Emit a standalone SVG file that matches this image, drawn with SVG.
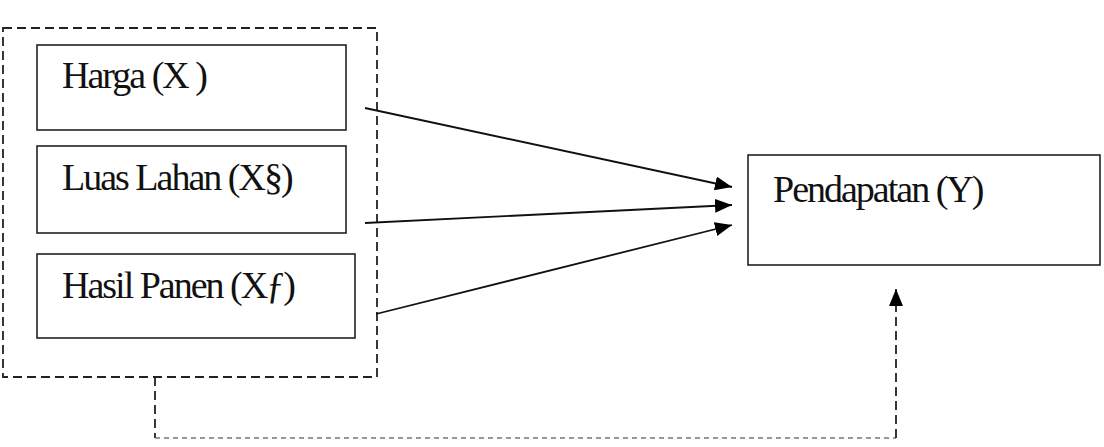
<svg xmlns="http://www.w3.org/2000/svg" width="1104" height="447" viewBox="0 0 1104 447">
<style>
.box{fill:none;stroke:#222;stroke-width:1.6}
.dash{fill:none;stroke:#222;stroke-width:1.8;stroke-dasharray:9 5}
.lbl{font-family:"Liberation Serif",serif;font-size:38px;letter-spacing:-2px;fill:#111}
.conn{stroke:#111;stroke-width:1.8;fill:none}
</style>
<defs>
<marker id="ah" viewBox="0 0 17 14" refX="17" refY="7" markerWidth="17" markerHeight="14" markerUnits="userSpaceOnUse" orient="auto">
<path d="M0,0 L17,7 L0,14 Z" fill="#000"/>
</marker>
</defs>
<rect width="1104" height="447" fill="#fff"/>
<g id="group-x">
<rect class="dash" x="3" y="28" width="374" height="349"/>
</g>
<g id="node-harga">
<rect class="box" x="37" y="45" width="309" height="85"/>
<text class="lbl" x="62" y="88">Harga (X )</text>
</g>
<g id="node-luas">
<rect class="box" x="37" y="146" width="309" height="87"/>
<text class="lbl" x="62" y="190">Luas Lahan (X§)</text>
</g>
<g id="node-hasil">
<rect class="box" x="37" y="254" width="318" height="84"/>
<text class="lbl" x="62" y="298">Hasil Panen (Xƒ)</text>
</g>
<g id="node-pendapatan">
<rect class="box" x="748" y="155" width="352" height="110"/>
<text class="lbl" x="773" y="202">Pendapatan (Y)</text>
</g>
<g id="connectors">
<line class="conn" x1="365" y1="108" x2="732" y2="187" marker-end="url(#ah)"/>
<line class="conn" x1="365" y1="223" x2="732" y2="205" marker-end="url(#ah)"/>
<line class="conn" x1="376" y1="314" x2="732" y2="225" marker-end="url(#ah)"/>
<line class="dash" x1="155" y1="377" x2="155" y2="438" stroke-dasharray="8 8"/>
<line x1="155" y1="438" x2="896" y2="438" fill="none" stroke="#777" stroke-width="1.4" stroke-dasharray="5 4"/>
<line class="dash" x1="896" y1="438" x2="896" y2="306" stroke-dasharray="8 10"/>
<line x1="896" y1="306" x2="896" y2="289" stroke="#000" stroke-width="1.6" marker-end="url(#ah)"/>
</g>
</svg>
